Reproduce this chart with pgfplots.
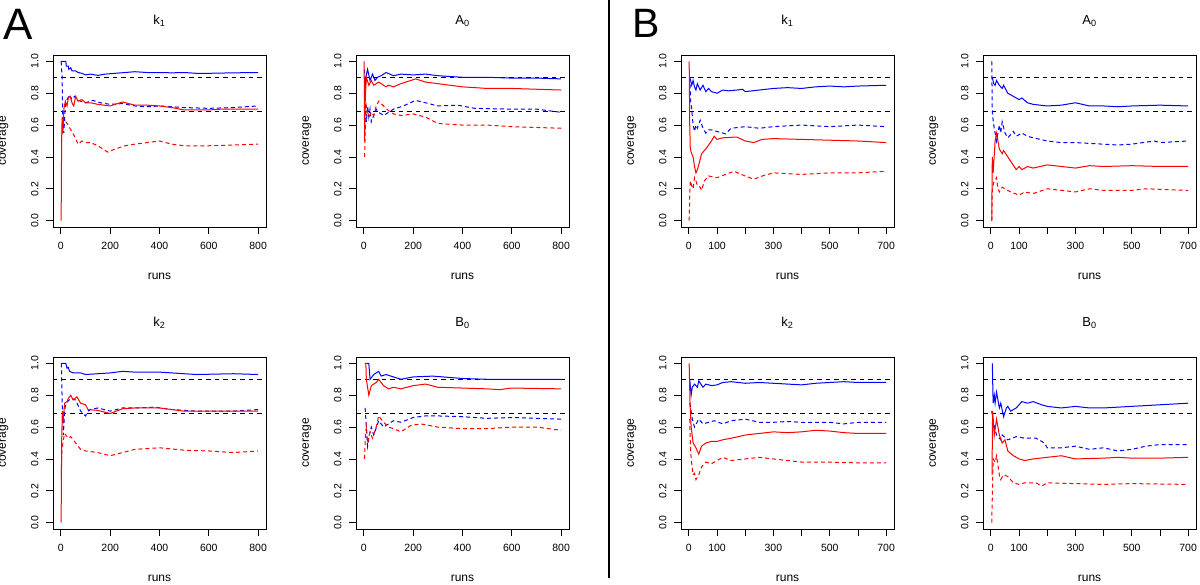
\documentclass[border=0pt]{standalone}
\usepackage{fontspec}
\setmainfont{Liberation Sans}
\usepackage{pgfplots}
\pgfplotsset{compat=1.18}
\pgfplotsset{
  panel/.style={
    scale only axis, width=213pt, height=172pt,
    anchor=south west,
    ymin=-0.04, ymax=1.04,
    ytick={0,0.2,0.4,0.6,0.8,1},
    yticklabels={0.0,0.2,0.4,0.6,0.8,1.0},
    tick pos=left, tick align=outside,
    major tick length=7pt,
    every tick/.style={black, line width=0.8pt},
    axis line style={line width=0.8pt, black},
    /pgf/number format/assume math mode=true,
    tick label style={font=\fontsize{10.5}{12}\selectfont},
    label style={font=\fontsize{12}{14}\selectfont},
    yticklabel style={rotate=90, anchor=south},
    yticklabel shift=4pt,
    xticklabel shift=5pt,
    xlabel=runs, ylabel=coverage,
    xlabel style={at={(axis description cs:0.5,-0.308)}, anchor=base},
    ylabel style={at={(axis description cs:-0.221,0.5)}, anchor=base, rotate=0},
    title style={at={(axis description cs:0.5,1.145)}, anchor=base, font=\fontsize{13}{15}\selectfont},
    clip=true,
  },
  panelA/.style={panel, xmin=-32, xmax=832, xtick={0,200,400,600,800}, xticklabels={0,200,400,600,800}},
  panelB/.style={panel, xmin=-28, xmax=728, xtick={0,100,200,300,400,500,600,700}, xticklabels={0,100,,300,,500,,700}},
  bs/.style={blue, line width=1pt, no marks},
  bd/.style={blue, line width=1pt, no marks, dash pattern=on 4pt off 3pt},
  rs/.style={red, line width=1pt, no marks},
  rd/.style={red, line width=1pt, no marks, dash pattern=on 4pt off 3pt},
  ref/.style={black, line width=0.9pt, no marks, dash pattern=on 4.5pt off 4pt},
}
\begin{document}
\begin{tikzpicture}
\path[use as bounding box] (0pt,0pt) rectangle (1200pt,584pt);
\node[font=\fontsize{44}{44}\selectfont, anchor=center] at (18.5pt,559.5pt) {A};
\node[font=\fontsize{41}{41}\selectfont, anchor=center] at (646pt,561pt) {B};
\draw[line width=2pt] (608.5pt,584pt) -- (608.5pt,6pt);

% ---------------- A k1
\begin{axis}[panelA, at={(53pt,357pt)}, title={k\textsubscript{1}}]
\addplot[ref] coordinates {(-32,0.9) (832,0.9)};
\addplot[ref] coordinates {(-32,0.683) (832,0.683)};
\addplot[bs] coordinates {(1,1)(20,1)(22,0.97)(30,0.97)(32,0.95)(40,0.96)(45,0.94)(60,0.94)(70,0.93)(85,0.925)(100,0.915)(120,0.92)(150,0.912)(180,0.92)(220,0.925)(260,0.93)(300,0.935)(350,0.93)(400,0.93)(450,0.928)(500,0.93)(550,0.925)(600,0.925)(700,0.928)(800,0.93)};
\addplot[bd] coordinates {(1,1)(5,0.9)(8,0.6)(12,0.55)(18,0.72)(25,0.76)(35,0.79)(45,0.76)(55,0.78)(65,0.76)(80,0.75)(100,0.74)(130,0.755)(160,0.74)(200,0.73)(250,0.735)(300,0.72)(350,0.715)(400,0.72)(450,0.715)(500,0.71)(600,0.705)(700,0.71)(800,0.72)};
\addplot[rs] coordinates {(1,0)(3,0.5)(5,0.65)(8,0.55)(12,0.7)(18,0.75)(25,0.72)(30,0.77)(38,0.78)(45,0.74)(52,0.72)(60,0.78)(70,0.75)(85,0.76)(100,0.74)(120,0.74)(150,0.73)(200,0.72)(250,0.745)(300,0.725)(350,0.725)(400,0.72)(450,0.71)(500,0.695)(600,0.695)(650,0.70)(700,0.70)(800,0.70)};
\addplot[rd] coordinates {(2,0.5)(5,0.55)(8,0.6)(12,0.62)(20,0.62)(30,0.6)(40,0.57)(55,0.53)(70,0.48)(85,0.5)(100,0.49)(120,0.49)(150,0.47)(170,0.45)(190,0.43)(220,0.45)(260,0.47)(300,0.48)(350,0.49)(400,0.5)(450,0.48)(500,0.47)(600,0.47)(700,0.475)(800,0.48)};
\end{axis}

% ---------------- A A0
\begin{axis}[panelA, at={(356pt,357pt)}, title={A\textsubscript{0}}]
\addplot[ref] coordinates {(-32,0.9) (832,0.9)};
\addplot[ref] coordinates {(-32,0.683) (832,0.683)};
\addplot[bs] coordinates {(3,0.8)(8,0.9)(15,0.95)(25,0.88)(35,0.92)(45,0.88)(55,0.9)(70,0.91)(90,0.93)(120,0.91)(150,0.92)(200,0.915)(250,0.92)(300,0.91)(400,0.9)(500,0.9)(600,0.895)(700,0.895)(800,0.89)};
\addplot[bd] coordinates {(3,0.95)(6,0.7)(10,0.62)(15,0.72)(20,0.65)(25,0.7)(30,0.62)(40,0.66)(50,0.7)(60,0.68)(80,0.66)(100,0.68)(120,0.7)(160,0.72)(210,0.755)(250,0.74)(300,0.72)(380,0.725)(450,0.705)(600,0.70)(700,0.70)(800,0.68)};
\addplot[rs] coordinates {(1,1.0)(3,0.5)(5,0.75)(10,0.9)(20,0.85)(30,0.88)(40,0.85)(60,0.87)(90,0.84)(100,0.85)(120,0.84)(150,0.86)(210,0.89)(250,0.87)(350,0.85)(400,0.84)(500,0.83)(600,0.83)(800,0.82)};
\addplot[rd] coordinates {(3,0.4)(6,0.6)(10,0.72)(20,0.65)(30,0.68)(40,0.66)(50,0.72)(60,0.75)(80,0.72)(100,0.69)(120,0.67)(150,0.66)(200,0.67)(250,0.65)(300,0.61)(400,0.6)(500,0.6)(600,0.59)(800,0.58)};
\end{axis}

% ---------------- A k2
\begin{axis}[panelA, at={(53pt,55pt)}, title={k\textsubscript{2}}]
\addplot[ref] coordinates {(-32,0.9) (832,0.9)};
\addplot[ref] coordinates {(-32,0.683) (832,0.683)};
\addplot[bs] coordinates {(2,1)(20,1)(25,0.97)(30,0.975)(35,0.95)(50,0.94)(80,0.94)(100,0.93)(150,0.935)(200,0.94)(250,0.95)(300,0.945)(400,0.945)(450,0.94)(550,0.93)(700,0.935)(800,0.93)};
\addplot[bd] coordinates {(2,1)(6,0.7)(10,0.55)(15,0.7)(20,0.75)(40,0.78)(60,0.77)(80,0.70)(100,0.67)(110,0.70)(120,0.71)(150,0.72)(200,0.70)(250,0.72)(300,0.72)(380,0.725)(450,0.71)(550,0.70)(700,0.70)(800,0.71)};
\addplot[rs] coordinates {(1,0)(3,0.5)(6,0.7)(10,0.65)(15,0.75)(25,0.76)(30,0.78)(40,0.80)(50,0.77)(65,0.79)(80,0.75)(100,0.74)(110,0.71)(150,0.705)(200,0.685)(250,0.715)(300,0.72)(400,0.72)(450,0.71)(500,0.70)(600,0.70)(800,0.70)};
\addplot[rd] coordinates {(2,0.3)(4,0.45)(8,0.5)(15,0.56)(20,0.55)(30,0.53)(40,0.54)(60,0.5)(80,0.46)(100,0.45)(150,0.44)(200,0.42)(250,0.44)(300,0.46)(400,0.47)(500,0.455)(600,0.45)(700,0.44)(800,0.45)};
\end{axis}

% ---------------- A B0
\begin{axis}[panelA, at={(356pt,55pt)}, title={B\textsubscript{0}}]
\addplot[ref] coordinates {(-32,0.9) (832,0.9)};
\addplot[ref] coordinates {(-32,0.683) (832,0.683)};
\addplot[bs] coordinates {(10,1)(20,1)(25,0.9)(40,0.93)(60,0.95)(70,0.92)(90,0.93)(120,0.915)(150,0.9)(200,0.915)(280,0.92)(400,0.905)(500,0.9)(600,0.9)(800,0.9)};
\addplot[bd] coordinates {(5,0.72)(10,0.6)(15,0.48)(22,0.55)(30,0.6)(40,0.55)(60,0.64)(80,0.6)(100,0.62)(120,0.64)(150,0.63)(200,0.66)(250,0.67)(300,0.67)(400,0.665)(500,0.655)(600,0.66)(800,0.65)};
\addplot[rs] coordinates {(3,1)(8,1)(10,0.9)(20,0.8)(30,0.86)(50,0.88)(60,0.9)(80,0.86)(100,0.84)(120,0.85)(150,0.84)(200,0.86)(250,0.87)(300,0.85)(400,0.845)(500,0.84)(550,0.835)(600,0.845)(800,0.84)};
\addplot[rd] coordinates {(3,0.4)(6,0.55)(10,0.6)(15,0.5)(25,0.57)(35,0.53)(50,0.6)(60,0.67)(80,0.63)(100,0.6)(120,0.59)(150,0.57)(190,0.61)(230,0.62)(300,0.6)(400,0.59)(500,0.59)(600,0.6)(700,0.6)(800,0.58)};
\end{axis}

% ---------------- B k1
\begin{axis}[panelB, at={(681pt,357pt)}, title={k\textsubscript{1}}]
\addplot[ref] coordinates {(-28,0.9) (728,0.9)};
\addplot[ref] coordinates {(-28,0.683) (728,0.683)};
\addplot[bs] coordinates {(3,0.9)(6,0.88)(10,0.85)(15,0.88)(20,0.84)(25,0.82)(30,0.86)(40,0.82)(50,0.85)(60,0.81)(70,0.83)(80,0.81)(100,0.80)(120,0.82)(140,0.815)(170,0.82)(190,0.825)(200,0.81)(250,0.82)(300,0.83)(350,0.835)(400,0.83)(450,0.84)(500,0.845)(550,0.84)(600,0.845)(700,0.85)};
\addplot[bd] coordinates {(3,0.9)(6,0.75)(10,0.7)(15,0.6)(20,0.56)(25,0.6)(30,0.58)(40,0.63)(50,0.58)(60,0.55)(70,0.57)(80,0.57)(100,0.56)(130,0.545)(150,0.58)(200,0.59)(250,0.58)(300,0.59)(400,0.6)(500,0.59)(600,0.6)(700,0.59)};
\addplot[rs] coordinates {(1,1)(3,0.6)(5,0.45)(10,0.42)(15,0.4)(20,0.34)(25,0.3)(30,0.32)(35,0.35)(45,0.42)(60,0.45)(80,0.5)(90,0.53)(100,0.51)(120,0.52)(170,0.525)(200,0.5)(230,0.49)(260,0.51)(300,0.515)(400,0.51)(500,0.505)(600,0.5)(700,0.49)};
\addplot[rd] coordinates {(1,0)(3,0.15)(5,0.25)(10,0.22)(15,0.2)(20,0.27)(25,0.25)(30,0.22)(40,0.21)(45,0.19)(55,0.25)(70,0.28)(100,0.27)(130,0.29)(160,0.31)(200,0.28)(230,0.26)(260,0.28)(300,0.3)(400,0.29)(500,0.3)(600,0.3)(700,0.31)};
\end{axis}

% ---------------- B A0
\begin{axis}[panelB, at={(983pt,357pt)}, title={A\textsubscript{0}}]
\addplot[ref] coordinates {(-28,0.9) (728,0.9)};
\addplot[ref] coordinates {(-28,0.683) (728,0.683)};
\addplot[bs] coordinates {(5,0.9)(10,0.86)(15,0.85)(20,0.88)(30,0.85)(40,0.83)(45,0.85)(60,0.8)(80,0.78)(100,0.76)(110,0.77)(130,0.74)(150,0.73)(200,0.72)(250,0.725)(300,0.74)(350,0.72)(400,0.72)(450,0.715)(500,0.72)(600,0.725)(700,0.72)};
\addplot[bd] coordinates {(3,1)(5,0.68)(10,0.6)(15,0.55)(20,0.5)(30,0.6)(35,0.55)(40,0.62)(50,0.55)(60,0.52)(80,0.56)(90,0.53)(110,0.55)(130,0.53)(150,0.52)(200,0.5)(250,0.49)(300,0.49)(400,0.48)(450,0.475)(500,0.48)(580,0.5)(600,0.49)(700,0.5)};
\addplot[rs] coordinates {(3,0)(5,0.4)(8,0.3)(15,0.5)(20,0.55)(30,0.45)(40,0.42)(45,0.44)(60,0.4)(75,0.36)(90,0.32)(100,0.34)(110,0.32)(130,0.34)(150,0.33)(200,0.35)(250,0.34)(300,0.33)(350,0.345)(400,0.34)(500,0.345)(600,0.34)(700,0.34)};
\addplot[rd] coordinates {(3,0)(5,0.2)(10,0.24)(15,0.25)(20,0.27)(25,0.2)(30,0.18)(40,0.21)(50,0.2)(70,0.18)(100,0.16)(120,0.18)(150,0.17)(200,0.2)(250,0.19)(300,0.18)(350,0.2)(400,0.19)(500,0.19)(550,0.2)(700,0.19)};
\end{axis}

% ---------------- B k2
\begin{axis}[panelB, at={(681pt,55pt)}, title={k\textsubscript{2}}]
\addplot[ref] coordinates {(-28,0.9) (728,0.9)};
\addplot[ref] coordinates {(-28,0.683) (728,0.683)};
\addplot[bs] coordinates {(3,0.9)(8,0.8)(12,0.85)(20,0.87)(30,0.85)(35,0.89)(50,0.85)(60,0.87)(80,0.86)(100,0.865)(120,0.88)(150,0.885)(200,0.875)(250,0.88)(300,0.875)(350,0.87)(400,0.865)(450,0.875)(500,0.88)(550,0.885)(600,0.88)(700,0.88)};
\addplot[bd] coordinates {(3,0.75)(8,0.7)(12,0.65)(20,0.6)(35,0.65)(50,0.62)(70,0.63)(90,0.64)(120,0.62)(150,0.64)(200,0.65)(250,0.63)(300,0.63)(350,0.635)(400,0.63)(500,0.63)(550,0.62)(600,0.63)(700,0.63)};
\addplot[rs] coordinates {(1,1)(4,0.75)(8,0.6)(15,0.5)(25,0.47)(35,0.43)(45,0.48)(60,0.5)(80,0.51)(100,0.51)(120,0.52)(150,0.53)(200,0.55)(250,0.56)(300,0.57)(350,0.565)(400,0.57)(450,0.58)(500,0.575)(550,0.565)(600,0.56)(700,0.56)};
\addplot[rd] coordinates {(3,0.65)(5,0.5)(8,0.4)(15,0.3)(20,0.31)(25,0.27)(35,0.3)(45,0.35)(60,0.38)(80,0.37)(100,0.39)(120,0.41)(150,0.39)(200,0.4)(250,0.41)(300,0.4)(350,0.39)(400,0.38)(500,0.38)(600,0.375)(700,0.375)};
\end{axis}

% ---------------- B B0
\begin{axis}[panelB, at={(983pt,55pt)}, title={B\textsubscript{0}}]
\addplot[ref] coordinates {(-28,0.9) (728,0.9)};
\addplot[ref] coordinates {(-28,0.683) (728,0.683)};
\addplot[bs] coordinates {(5,1)(8,0.75)(12,0.8)(15,0.75)(20,0.82)(30,0.72)(35,0.75)(45,0.665)(55,0.72)(60,0.73)(70,0.7)(90,0.72)(100,0.74)(110,0.76)(130,0.75)(150,0.76)(180,0.74)(200,0.73)(250,0.72)(300,0.73)(350,0.72)(400,0.72)(500,0.73)(600,0.74)(700,0.75)};
\addplot[bd] coordinates {(3,0.7)(10,0.62)(20,0.55)(35,0.52)(40,0.55)(60,0.52)(90,0.54)(120,0.53)(160,0.53)(190,0.5)(200,0.47)(250,0.47)(300,0.48)(350,0.46)(400,0.47)(450,0.45)(500,0.46)(550,0.48)(600,0.49)(700,0.49)};
\addplot[rs] coordinates {(4,0.3)(6,0.7)(12,0.55)(20,0.65)(30,0.55)(40,0.5)(50,0.52)(60,0.45)(80,0.42)(100,0.4)(120,0.39)(150,0.4)(200,0.41)(250,0.42)(300,0.4)(400,0.405)(450,0.41)(500,0.405)(600,0.405)(700,0.41)};
\addplot[rd] coordinates {(3,0)(8,0.4)(15,0.38)(20,0.42)(30,0.3)(35,0.27)(45,0.3)(60,0.29)(80,0.25)(100,0.24)(120,0.25)(160,0.25)(180,0.23)(200,0.25)(300,0.245)(400,0.24)(500,0.245)(700,0.24)};
\end{axis}
\end{tikzpicture}
\end{document}
